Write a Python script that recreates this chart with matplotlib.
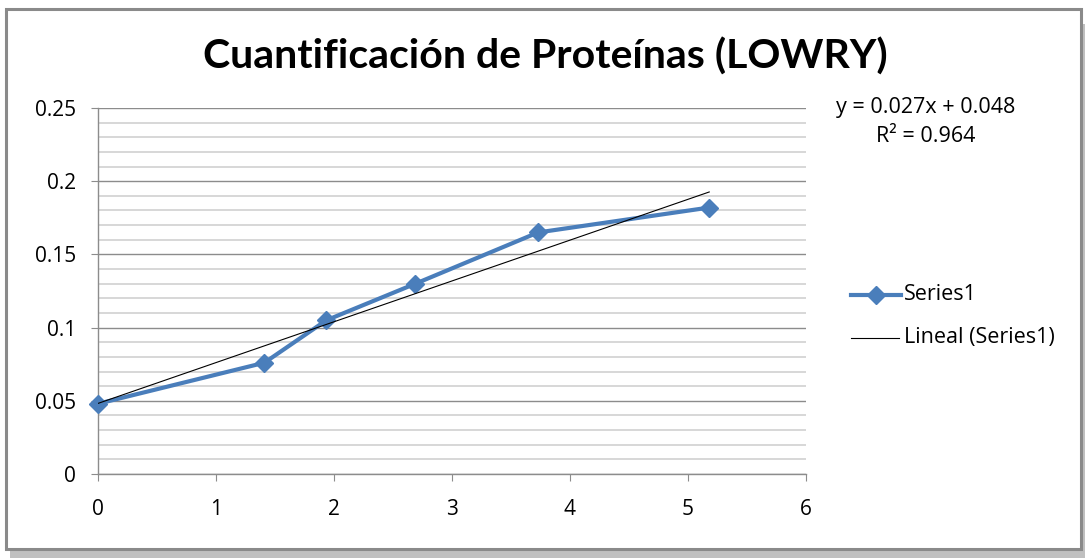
import matplotlib
matplotlib.use("Agg")
import matplotlib.pyplot as plt
from matplotlib.patches import Rectangle
from matplotlib.lines import Line2D
import numpy as np

plt.rcParams['font.family'] = ['Open Sans', 'DejaVu Sans']

title = "Cuantificación de Proteínas (LOWRY)"
x_vals = [0, 1.41, 1.935, 2.69, 3.73, 5.18]
y_vals = [0.048, 0.076, 0.105, 0.130, 0.165, 0.182]
series_name = "Series1"
trend_name = "Lineal (Series1)"
eq_text = "y = 0.027x + 0.048"
r2_text = "R² = 0.964"
x_ticks = [0, 1, 2, 3, 4, 5, 6]
y_ticks = [0, 0.05, 0.1, 0.15, 0.2, 0.25]
y_tick_labels = ["0", "0.05", "0.1", "0.15", "0.2", "0.25"]

W, H = 1085, 558
fig = plt.figure(figsize=(W / 100, H / 100), dpi=100)
fig.patch.set_facecolor('white')

# shadow + frame
fig.patches.append(Rectangle((10 / W, 0), (W - 10) / W, (H - 550) / H, transform=fig.transFigure,
                             facecolor='#c0c0c0', edgecolor='none', zorder=0))
fig.patches.append(Rectangle((1082 / W, 0), 3 / W, (H - 24) / H, transform=fig.transFigure,
                             facecolor='#c0c0c0', edgecolor='none', zorder=0))
fig.patches.append(Rectangle((6 / W, 1 - 549 / H), (1081 - 6) / W, (549 - 9) / H, transform=fig.transFigure,
                             facecolor='white', edgecolor='#8a8a8a', linewidth=2.2, zorder=0.5))

ax = fig.add_axes([98 / W, 1 - 474 / H, (806 - 98) / W, (474 - 108) / H])
ax.set_zorder(2)
ax.set_facecolor('none')
ax.set_xlim(0, 6)
ax.set_ylim(0, 0.25)

ax.set_yticks(np.arange(0, 0.2501, 0.01), minor=True)
ax.set_yticks(y_ticks)
ax.set_yticklabels(y_tick_labels)
ax.set_xticks(x_ticks)
ax.grid(True, which='minor', axis='y', color='#d4d4d4', linewidth=1.3)
ax.grid(True, which='major', axis='y', color='#8c8c8c', linewidth=1.0)
ax.set_axisbelow(True)
ax.tick_params(axis='y', which='minor', length=0)
ax.tick_params(axis='both', which='major', length=5, color='#8c8c8c', labelsize=15, colors='#8c8c8c')
ax.tick_params(axis='both', labelcolor='black')
ax.tick_params(axis='y', pad=11)
ax.tick_params(axis='x', pad=13)
for s in ['top', 'right']:
    ax.spines[s].set_visible(False)
for s in ['left', 'bottom']:
    ax.spines[s].set_color('#8c8c8c')
    ax.spines[s].set_linewidth(1.0)

blue = '#4a7ebb'
ax.plot(x_vals, y_vals, color=blue, linewidth=3.0, marker='D', markersize=9,
        markerfacecolor=blue, markeredgecolor=blue, zorder=3, clip_on=False)

coef = np.polyfit(x_vals, y_vals, 1)
xt = np.array([min(x_vals), max(x_vals)])
ax.plot(xt, np.polyval(coef, xt), color='black', linewidth=0.8, zorder=4)

fig.text(545 / W, 1 - 57 / H, title, ha='center', va='center', fontsize=29.5, fontweight='bold',
         family=['Lato', 'DejaVu Sans'])

fig.text(926 / W, 1 - 107 / H, eq_text, ha='center', va='center', fontsize=15.5)
fig.text(926 / W, 1 - 136 / H, r2_text, ha='center', va='center', fontsize=15.5)

# legend
fig.add_artist(Line2D([851 / W, 901 / W], [1 - 295 / H] * 2, transform=fig.transFigure,
                      color=blue, linewidth=3.0))
fig.add_artist(Line2D([876 / W], [1 - 295 / H], transform=fig.transFigure, color=blue,
                      marker='D', markersize=9, markerfacecolor=blue, markeredgecolor=blue))
fig.text(904 / W, 1 - 295 / H, series_name, ha='left', va='center', fontsize=15.5)
fig.add_artist(Line2D([851 / W, 899 / W], [1 - 338 / H] * 2, transform=fig.transFigure,
                      color='black', linewidth=0.8))
fig.text(904 / W, 1 - 338 / H, trend_name, ha='left', va='center', fontsize=15.5)

fig.savefig('out.png', dpi=100)
